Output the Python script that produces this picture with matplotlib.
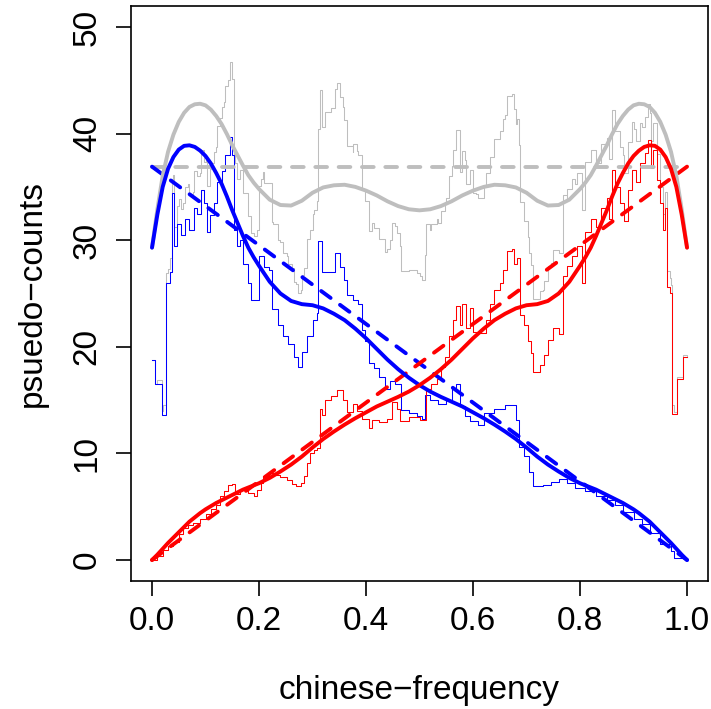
import numpy as np
import matplotlib
matplotlib.use('Agg')
import matplotlib.pyplot as plt

plt.rcParams['font.family'] = ['Liberation Sans', 'DejaVu Sans']

# step series (value holds from x[i] to x[i+1])
blueStepX = [0.000, 0.005, 0.018, 0.027, 0.033, 0.037, 0.042, 0.047, 0.055, 0.062,
             0.070, 0.078, 0.085, 0.092, 0.098, 0.103, 0.108, 0.115, 0.122, 0.130,
             0.137, 0.145, 0.150, 0.153, 0.158, 0.165, 0.170, 0.180, 0.185, 0.195,
             0.200, 0.210, 0.218, 0.225, 0.235, 0.245, 0.255, 0.265, 0.272, 0.280,
             0.290, 0.300, 0.308, 0.311, 0.318, 0.325, 0.342, 0.352, 0.358, 0.365,
             0.375, 0.385, 0.392, 0.398, 0.405, 0.415, 0.425, 0.435, 0.445, 0.455,
             0.465, 0.480, 0.495, 0.505, 0.510, 0.520, 0.535, 0.550, 0.560, 0.568,
             0.575, 0.585, 0.595, 0.610, 0.620, 0.640, 0.660, 0.672, 0.680, 0.685,
             0.695, 0.705, 0.712, 0.730, 0.745, 0.760, 0.775, 0.790, 0.810, 0.830,
             0.850, 0.865, 0.880, 0.900, 0.915, 0.930, 0.950, 0.970, 0.975, 1.000]
blueStepY = [18.8, 16.5, 13.6, 26.0, 27.0, 34.4, 29.5, 31.5, 30.5, 32.0,
             31.0, 33.0, 32.5, 34.7, 33.5, 30.8, 32.4, 33.5, 35.5, 36.5,
             38.0, 39.7, 38.0, 31.0, 29.5, 30.0, 27.8, 26.0, 24.4, 24.4,
             28.5, 27.5, 27.2, 23.5, 22.0, 21.0, 20.3, 19.0, 18.1, 19.5,
             21.0, 22.5, 23.2, 29.9, 27.0, 27.0, 28.8, 27.5, 26.3, 24.9,
             24.4, 24.0, 21.6, 20.5, 18.5, 18.0, 17.2, 16.0, 16.8, 16.5,
             14.1, 13.8, 13.5, 13.2, 15.5, 15.0, 14.6, 15.0, 16.0, 16.5,
             14.4, 13.5, 13.0, 12.7, 13.8, 14.2, 14.5, 14.5, 13.1, 10.6,
             9.8, 8.3, 6.9, 7.0, 7.3, 7.6, 7.2, 6.8, 6.5, 6.0,
             5.6, 5.2, 4.5, 3.8, 3.4, 2.5, 1.5, 0.8, 0.2, 0.0]

redStepX = [0.000, 0.010, 0.020, 0.030, 0.040, 0.050, 0.058, 0.068, 0.077, 0.090,
            0.100, 0.110, 0.120, 0.127, 0.135, 0.142, 0.150, 0.155, 0.165, 0.180,
            0.190, 0.197, 0.203, 0.207, 0.218, 0.226, 0.240, 0.252, 0.262, 0.270,
            0.278, 0.285, 0.290, 0.296, 0.302, 0.308, 0.314, 0.318, 0.323, 0.335,
            0.345, 0.357, 0.364, 0.376, 0.384, 0.392, 0.405, 0.411, 0.425, 0.439,
            0.448, 0.458, 0.464, 0.480, 0.500, 0.513, 0.522, 0.532, 0.540, 0.548,
            0.555, 0.562, 0.568, 0.575, 0.580, 0.587, 0.595, 0.600, 0.606, 0.625,
            0.632, 0.640, 0.650, 0.656, 0.663, 0.672, 0.676, 0.683, 0.688, 0.695,
            0.702, 0.708, 0.712, 0.725, 0.732, 0.740, 0.750, 0.760, 0.769, 0.776,
            0.785, 0.795, 0.803, 0.810, 0.820, 0.830, 0.840, 0.850, 0.855, 0.860,
            0.866, 0.875, 0.883, 0.890, 0.898, 0.905, 0.912, 0.922, 0.927, 0.932,
            0.937, 0.943, 0.950, 0.955, 0.958, 0.962, 0.968, 0.972, 0.982, 0.993,
            1.000]
redStepY = [0.0, 0.4, 0.9, 1.3, 1.7, 2.4, 3.0, 3.3, 3.5, 3.8,
            4.3, 4.8, 5.2, 6.0, 6.5, 7.0, 7.1, 6.2, 6.6, 6.3,
            6.0, 6.6, 7.2, 7.9, 8.2, 8.0, 7.8, 7.5, 7.1, 6.9,
            7.2, 7.9, 9.1, 10.0, 10.3, 10.5, 14.2, 13.6, 15.0, 15.4,
            15.9, 15.0, 13.9, 14.6, 14.0, 13.2, 12.4, 13.1, 12.9, 13.2,
            14.8, 14.2, 13.0, 13.4, 13.1, 16.0, 16.5, 17.0, 18.1, 19.0,
            21.0, 22.5, 23.8, 22.0, 24.0, 21.8, 23.6, 21.4, 21.3, 22.5,
            24.0, 25.3, 26.0, 27.2, 29.0, 29.2, 27.8, 28.3, 23.0, 22.0,
            20.5, 19.4, 17.6, 18.3, 19.2, 20.6, 21.8, 21.2, 26.6, 27.6,
            28.5, 29.5, 26.0, 30.8, 32.0, 31.2, 33.0, 34.0, 32.0, 36.6,
            35.0, 33.5, 31.8, 34.7, 36.6, 35.5, 37.2, 38.2, 39.4, 36.8,
            38.5, 35.6, 33.5, 31.0, 33.0, 25.6, 25.0, 13.7, 17.0, 19.0,
            19.0]

# smoothed curves
smoothX = [0.00, 0.01, 0.02, 0.03, 0.04, 0.05, 0.06, 0.07, 0.08, 0.09,
           0.10, 0.11, 0.12, 0.13, 0.14, 0.15, 0.16, 0.17, 0.18, 0.19, 0.20,
           0.22, 0.24, 0.26, 0.28, 0.30, 0.32, 0.34, 0.36, 0.38, 0.40,
           0.42, 0.44, 0.46, 0.48, 0.50, 0.52, 0.54, 0.56, 0.58, 0.60,
           0.62, 0.64, 0.66, 0.68, 0.70, 0.72, 0.74, 0.76, 0.78,
           0.80, 0.81, 0.82, 0.83, 0.84, 0.85, 0.86, 0.87, 0.88, 0.89,
           0.90, 0.91, 0.92, 0.93, 0.94, 0.95, 0.96, 0.97, 0.98, 0.99, 1.00]
blueSmooth = [29.3, 32.4, 35.0, 36.7, 37.8, 38.5, 38.85, 38.9, 38.75, 38.4,
              37.9, 37.2, 36.3, 35.3, 34.1, 32.8, 31.6, 30.4, 29.3, 28.4, 27.6,
              26.1, 25.0, 24.3, 24.0, 23.9, 23.6, 23.1, 22.5, 21.7, 20.8,
              19.8, 18.8, 17.9, 17.1, 16.4, 15.8, 15.3, 14.85, 14.4, 13.85,
              13.3, 12.7, 12.05, 11.35, 10.55, 9.7, 8.95, 8.3, 7.7,
              7.2, 7.0, 6.8, 6.6, 6.35, 6.1, 5.85, 5.6, 5.35, 5.05,
              4.75, 4.4, 4.0, 3.6, 3.1, 2.6, 2.1, 1.6, 1.05, 0.5, 0.0]
redSmooth = [0.0, 0.5, 1.05, 1.6, 2.1, 2.6, 3.1, 3.6, 4.0, 4.4,
             4.75, 5.05, 5.35, 5.6, 5.85, 6.1, 6.35, 6.6, 6.8, 7.0, 7.2,
             7.7, 8.3, 8.95, 9.7, 10.55, 11.35, 12.05, 12.7, 13.3, 13.85,
             14.4, 14.85, 15.3, 15.8, 16.4, 17.1, 17.9, 18.8, 19.8, 20.8,
             21.7, 22.5, 23.1, 23.6, 23.9, 24.0, 24.3, 25.0, 26.1,
             27.6, 28.4, 29.3, 30.4, 31.6, 32.8, 34.1, 35.3, 36.3, 37.2,
             37.9, 38.4, 38.75, 38.9, 38.85, 38.5, 37.8, 36.7, 35.0, 32.4, 29.3]

# linear fits
fitX = [0.0, 1.0]
blueFit = [36.9, 0.0]
redFit = [0.0, 36.9]
grayFit = [36.9, 36.9]

xTicks = [0.0, 0.2, 0.4, 0.6, 0.8, 1.0]
yTicks = [0, 10, 20, 30, 40, 50]

blueCol = '#0000FF'
redCol = '#FF0000'
grayCol = '#BEBEBE'


def stepValue(xs, ys, at):
    idx = np.searchsorted(np.array(xs), at, side='right') - 1
    return np.array(ys)[np.clip(idx, 0, len(ys) - 1)]

# gray = blue + red
grayStepX = np.union1d(blueStepX, redStepX)
grayStepY = stepValue(blueStepX, blueStepY, grayStepX) + stepValue(redStepX, redStepY, grayStepX)
graySmooth = np.array(blueSmooth) + np.array(redSmooth)

fig = plt.figure(figsize=(7.11, 7.09), dpi=100)
ax = fig.add_axes([0.1837, 0.1801, 0.8127, 0.8119])

ax.plot(grayStepX, grayStepY, color=grayCol, lw=0.75, drawstyle='steps-post')
ax.plot(blueStepX, blueStepY, color=blueCol, lw=0.75, drawstyle='steps-post')
ax.plot(redStepX, redStepY, color=redCol, lw=0.75, drawstyle='steps-post')

dash = dict(lw=2.8, linestyle=(0, (3.0, 3.0)), dash_capstyle='round')
ax.plot(fitX, grayFit, color=grayCol, **dash)
ax.plot(fitX, blueFit, color=blueCol, **dash)
ax.plot(fitX, redFit, color=redCol, **dash)

ax.plot(smoothX, graySmooth, color=grayCol, lw=2.8, solid_capstyle='round', solid_joinstyle='round')
ax.plot(smoothX, blueSmooth, color=blueCol, lw=2.8, solid_capstyle='round', solid_joinstyle='round')
ax.plot(smoothX, redSmooth, color=redCol, lw=2.8, solid_capstyle='round', solid_joinstyle='round')

ax.set_xlim(-0.04, 1.04)
ax.set_ylim(-2, 52)
ax.set_xticks(xTicks)
ax.set_xticklabels(['%.1f' % t for t in xTicks])
ax.set_yticks(yTicks)
ax.set_yticklabels([str(t) for t in yTicks], rotation=90, va='center')
ax.tick_params(direction='out', length=11, width=1.2, labelsize=24, color='black')
ax.tick_params(axis='x', pad=7)
ax.tick_params(axis='y', pad=9)
for s in ax.spines.values():
    s.set_linewidth(1.2)

ax.set_xlabel('chinese\u2212frequency', fontsize=24, labelpad=27)
ax.set_ylabel('psuedo\u2212counts', fontsize=24, labelpad=17)

plt.savefig('out.png', dpi=100)
